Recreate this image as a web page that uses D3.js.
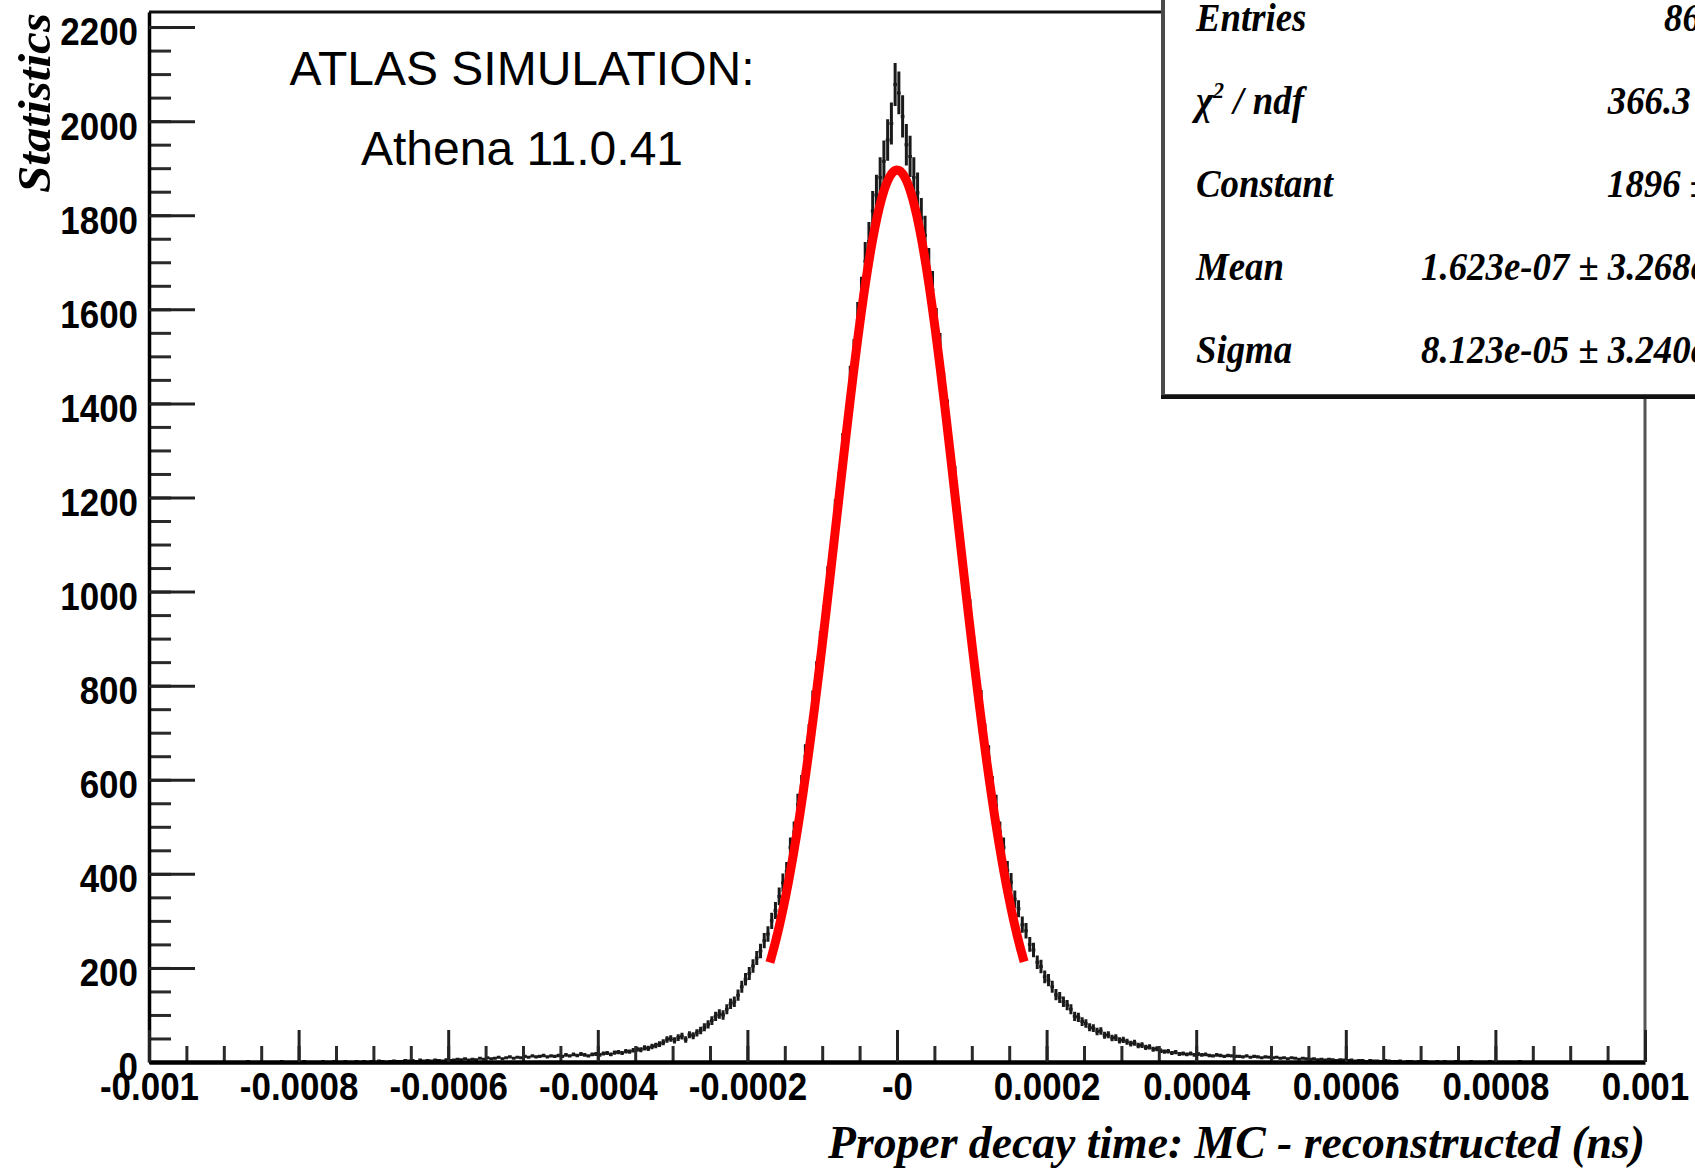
<!DOCTYPE html>
<html>
<head>
<meta charset="utf-8">
<script src="https://cdn.jsdelivr.net/npm/d3@7"></script>
<style>
  html, body { margin: 0; padding: 0; background: #fff; }
  svg { display: block; }
</style>
</head>
<body>
<svg id="chart" width="1695" height="1170"></svg>
<script>
// ---- Histogram: proper decay time residual, 400 bins on [-0.001, 0.001] ns ----
const histLow = -0.001;
const histHigh = 0.001;

// bins 0..199 (negative side)
const countsNeg = [
  0,0,0,0,0,0,0,0,0,0,
  0,0,0,0,0,0,0,0,0,0,
  0,0,0,0,0,0,1,0,0,0,
  0,0,0,0,0,1,0,0,0,0,
  0,1,0,0,0,0,1,0,0,1,
  0,0,1,0,0,1,0,1,0,
  1,0,2,1,0,1,2,1,1,3,
  2,3,1,4,2,3,2,4,3,2,
  5,3,4,6,5,7,4,6,5,8,
  6,9,7,8,10,7,9,11,8,10,
  9,12,10,13,11,12,14,11,13,12,
  14,12,15,13,16,14,17,15,13,16,
  17,15,18,19,16,20,21,19,23,22,
  25,27,26,30,29,33,35,38,42,48,
  50,46,52,55,48,58,56,62,67,74,
  80,88,97,102,100,112,124,128,142,160,
  176,188,204,221,236,258,272,300,322,352,
  381,405,456,489,547,586,650,692,762,823,
  886,941,1022,1079,1162,1219,1301,1358,1442,1498,
  1576,1629,1702,1744,1809,1843,1880,1915,1960,1995,
  2078
];

// bins 200..399 (positive side)
const countsPos = [
  2060,
  2010,1950,1925,1880,1848,1794,1757,1689,1641,1563,
  1511,1428,1371,1290,1232,1149,1090,1009,953,876,
  812,763,693,648,584,545,489,456,407,382,
  346,326,292,279,250,238,212,203,181,174,
  160,143,137,128,121,112,97,95,86,82,
  74,72,65,66,57,58,51,52,46,47,
  43,39,41,35,36,31,32,27,28,24,
  22,23,19,21,17,18,16,18,15,17,
  15,16,14,13,15,14,12,14,13,12,
  12,11,13,10,12,11,9,11,10,9,
  10,8,9,7,9,8,6,8,7,6,
  7,5,6,4,6,5,3,5,4,3,
  4,2,3,3,1,3,2,2,1,3,
  2,1,1,2,0,1,1,0,1,1,
  1,0,0,1,0,1,0,0,1,0,
  0,0,1,0,0,0,0,1,0,0,
  0,0,0,0,0,1,0,0,0,0,
  0,0,0,0,0,0,0,0,0,0,
  0,0,0,0,0,0,0,0,0,0,
  0,0,0,0,0,0,0,0,0
];

// ---- Gaussian fit result ----
const fitConstant = 1896;
const fitMean = 1.623e-07;
const fitSigma = 8.123e-05;
const fitRange = [-0.00017, 0.00017];

// ---- Axis ticks and labels ----
const xTickValues = [-0.001, -0.0008, -0.0006, -0.0004, -0.0002, 0, 0.0002, 0.0004, 0.0006, 0.0008, 0.001];
const xTickLabels = ["-0.001", "-0.0008", "-0.0006", "-0.0004", "-0.0002", "-0", "0.0002", "0.0004", "0.0006", "0.0008", "0.001"];
const yTickValues = [0, 200, 400, 600, 800, 1000, 1200, 1400, 1600, 1800, 2000, 2200];
const yTickLabels = ["0", "200", "400", "600", "800", "1000", "1200", "1400", "1600", "1800", "2000", "2200"];
const yMax = 2232;

// ---- Text ----
const xTitle = "Proper decay time: MC - reconstructed (ns)";
const yTitle = "Statistics";
const noteLines = ["ATLAS SIMULATION:", "Athena 11.0.41"];
const statLabels = ["Entries", "chi2", "Constant", "Mean", "Sigma"];
const statValues = ["", "366.3 / 65", "1896 \u00b1 10", "1.623e-07 \u00b1 3.268e-07", "8.123e-05 \u00b1 3.240e-07"];

// ------------------------------------------------------------------
const binCounts = countsNeg.concat(countsPos);
const nBins = binCounts.length;
const binW = (histHigh - histLow) / nBins;

const frame = { left: 149, right: 1645, top: 12, bottom: 1062 };
const svg = d3.select("#chart");
svg.append("rect").attr("width", 1695).attr("height", 1170).attr("fill", "#fff");

const x = d3.scaleLinear().domain([histLow, histHigh]).range([frame.left, frame.right]);
const y = d3.scaleLinear().domain([0, yMax]).range([frame.bottom, frame.top]);

const serif = "'Liberation Serif', 'Times New Roman', serif";
const sans = "'Liberation Sans', Arial, Helvetica, sans-serif";
const squeeze = 0.92;

// Histogram drawn ROOT-style with error bars
const hp = d3.path();
binCounts.forEach((n, i) => {
  if (n <= 0) return;
  const lo = histLow + i * binW, hi = lo + binW, mid = lo + binW / 2;
  const e = Math.sqrt(n);
  hp.moveTo(x(lo), y(n)); hp.lineTo(x(hi), y(n));
  hp.moveTo(x(mid), y(n + e)); hp.lineTo(x(mid), y(Math.max(0, n - e)));
});
svg.append("path")
  .attr("d", hp.toString())
  .attr("fill", "none")
  .attr("stroke", "#1a1a1a")
  .attr("stroke-width", 3);

// Fitted Gaussian over the fit range
const nSamp = 300;
const fitPts = d3.range(nSamp + 1).map(k => {
  const t = fitRange[0] + (fitRange[1] - fitRange[0]) * k / nSamp;
  const z = (t - fitMean) / fitSigma;
  return [t, fitConstant * Math.exp(-0.5 * z * z)];
});
svg.append("path")
  .datum(fitPts)
  .attr("d", d3.line().x(d => x(d[0])).y(d => y(d[1])))
  .attr("fill", "none")
  .attr("stroke", "#ff0000")
  .attr("stroke-width", 9);

// Frame top / right
svg.append("line").attr("x1", frame.left).attr("x2", frame.right)
  .attr("y1", frame.top).attr("y2", frame.top)
  .attr("stroke", "#111").attr("stroke-width", 3);
svg.append("line").attr("x1", frame.right).attr("x2", frame.right)
  .attr("y1", frame.top).attr("y2", frame.bottom)
  .attr("stroke", "#555").attr("stroke-width", 3);

// Y axis: minor then major ticks (inward)
const yMinor = d3.range(0, yMax, 50);
const gyMinor = svg.append("g").attr("transform", `translate(${frame.left},0)`)
  .call(d3.axisLeft(y).tickValues(yMinor).tickSizeInner(-22).tickSizeOuter(0).tickFormat(""));
gyMinor.select(".domain").remove();
gyMinor.selectAll(".tick line").attr("stroke", "#2a2a2a").attr("stroke-width", 3);

const gy = svg.append("g").attr("transform", `translate(${frame.left},0)`)
  .call(d3.axisLeft(y).tickValues(yTickValues).tickSizeInner(-46).tickSizeOuter(0)
    .tickPadding(11).tickFormat((d, i) => yTickLabels[i]));
gy.select(".domain").attr("stroke", "#000").attr("stroke-width", 3.5);
gy.selectAll(".tick line").attr("stroke", "#222").attr("stroke-width", 3);
gy.selectAll(".tick text")
  .attr("x", -11 / squeeze)
  .attr("dy", "0.47em")
  .attr("transform", `scale(${squeeze},1)`)
  .attr("fill", "#000")
  .style("font-family", sans)
  .style("font-weight", "bold")
  .style("font-size", "38px");

// X axis: minor then major ticks (inward)
const xMinor = d3.range(0, 41).map(k => histLow + k * 0.00005);
const gxMinor = svg.append("g").attr("transform", `translate(0,${frame.bottom})`)
  .call(d3.axisBottom(x).tickValues(xMinor).tickSizeInner(-16).tickSizeOuter(0).tickFormat(""));
gxMinor.select(".domain").remove();
gxMinor.selectAll(".tick line").attr("stroke", "#2a2a2a").attr("stroke-width", 3);

const gx = svg.append("g").attr("transform", `translate(0,${frame.bottom})`)
  .call(d3.axisBottom(x).tickValues(xTickValues).tickSizeInner(-32).tickSizeOuter(0)
    .tickPadding(38).tickFormat((d, i) => xTickLabels[i]));
gx.select(".domain").attr("stroke", "#000").attr("stroke-width", 4.5);
gx.selectAll(".tick line").attr("stroke", "#222").attr("stroke-width", 3);
gx.selectAll(".tick text")
  .attr("dy", "0")
  .attr("transform", `scale(${squeeze},1)`)
  .attr("fill", "#000")
  .style("font-family", sans)
  .style("font-weight", "bold")
  .style("font-size", "38px");

// Axis titles
svg.append("text")
  .attr("x", frame.right).attr("y", 1158)
  .attr("text-anchor", "end")
  .attr("textLength", 817).attr("lengthAdjust", "spacingAndGlyphs")
  .style("font-family", serif).style("font-style", "italic").style("font-weight", "bold")
  .style("font-size", "46px").attr("fill", "#000")
  .text(xTitle);

svg.append("text")
  .attr("transform", "translate(50,13) rotate(-90)")
  .attr("text-anchor", "end")
  .attr("textLength", 180).attr("lengthAdjust", "spacingAndGlyphs")
  .style("font-family", serif).style("font-style", "italic").style("font-weight", "bold")
  .style("font-size", "47px").attr("fill", "#000")
  .text(yTitle);

// Statistics box (extends past the top and right edges)
const box = { x: 1163, y: -30, w: 700, bottom: 396 };
svg.append("rect")
  .attr("x", box.x).attr("y", box.y)
  .attr("width", box.w).attr("height", box.bottom - box.y)
  .attr("fill", "#fff").attr("stroke", "#4a4a4a").attr("stroke-width", 4);
svg.append("line")
  .attr("x1", box.x - 2).attr("x2", box.x + box.w)
  .attr("y1", box.bottom + 1).attr("y2", box.bottom + 1)
  .attr("stroke", "#111").attr("stroke-width", 4);

const rowBase = [31, 114, 197, 280, 363];
const entries = d3.sum(binCounts);
statLabels.forEach((lab, i) => {
  const gl = svg.append("g").attr("transform", `translate(1196,${rowBase[i]}) scale(${squeeze},1)`);
  const t = gl.append("text")
    .style("font-family", serif).style("font-style", "italic").style("font-weight", "bold")
    .style("font-size", "40px").attr("fill", "#000");
  if (lab === "chi2") {
    t.append("tspan").text("\u03c7");
    t.append("tspan").attr("dy", -16).style("font-size", "24px").text("2");
    t.append("tspan").attr("dy", 16).text(" / ndf");
  } else {
    t.text(lab);
  }
  const val = i === 0 ? String(entries) : statValues[i];
  svg.append("g").attr("transform", `translate(1756,${rowBase[i]}) scale(${squeeze},1)`)
    .append("text")
    .attr("text-anchor", "end")
    .style("font-family", serif).style("font-style", "italic").style("font-weight", "bold")
    .style("font-size", "40px").attr("fill", "#000")
    .text(val);
});

// Simulation note
svg.selectAll("text.note")
  .data(noteLines)
  .join("text")
  .attr("class", "note")
  .attr("x", 522)
  .attr("y", (d, i) => [85, 165][i])
  .attr("text-anchor", "middle")
  .style("font-family", sans)
  .style("font-size", "48px")
  .attr("fill", "#000")
  .text(d => d);
</script>
</body>
</html>
